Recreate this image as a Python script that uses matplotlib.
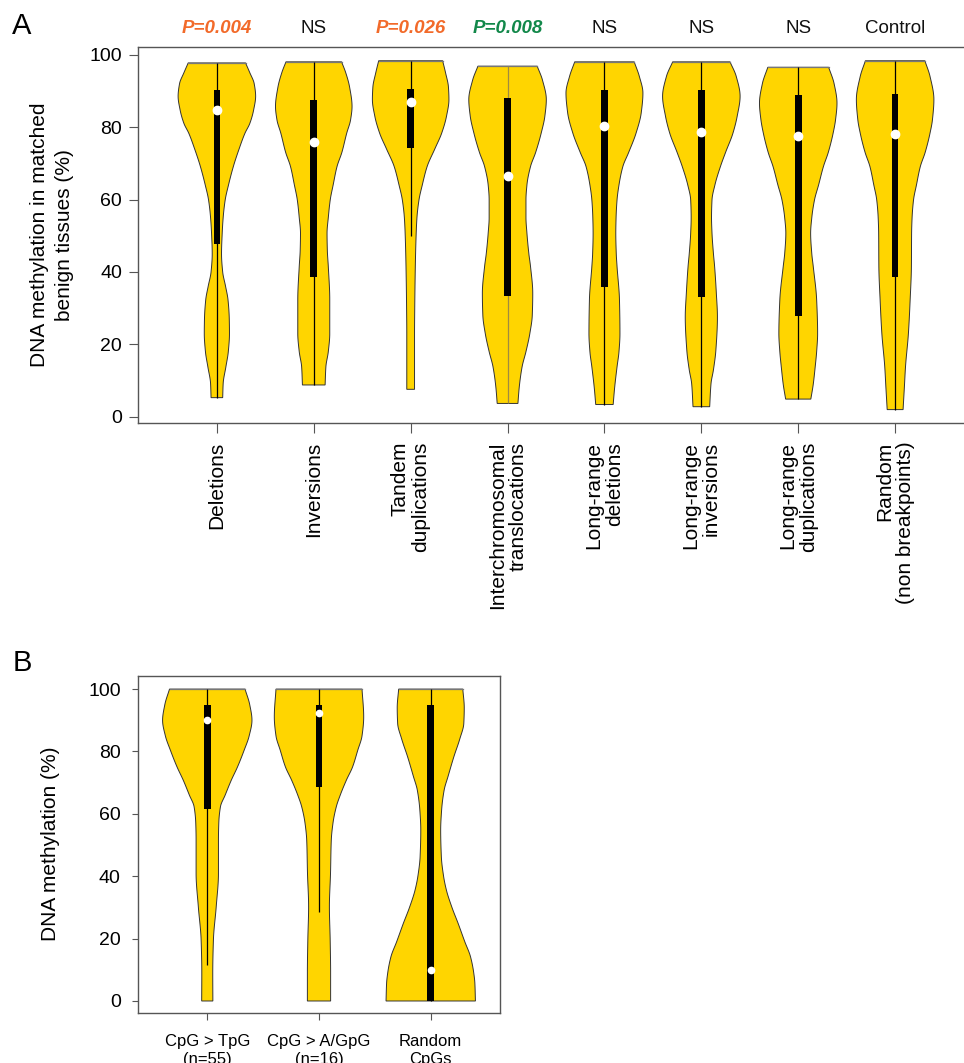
import numpy as np
import matplotlib
matplotlib.use("Agg")
import matplotlib.pyplot as plt

plt.rcParams['font.family'] = ['Liberation Sans', 'DejaVu Sans']

# ---------------- Panel A data ----------------
a_labels = ["Deletions", "Inversions", "Tandem\nduplications",
            "Interchromosomal\ntranslocations", "Long-range\ndeletions",
            "Long-range\ninversions", "Long-range\nduplications",
            "Random\n(non breakpoints)"]
a_top_text = ["P=0.004", "NS", "P=0.026", "P=0.008", "NS", "NS", "NS", "Control"]
a_top_kind = ["up", "ns", "up", "down", "ns", "ns", "ns", "ns"]

# violin outlines: methylation level (%) and half-width (fraction of group spacing)
deletions_y = [97.7, 95, 92, 88.5, 84.8, 81, 78.3, 74, 69.1, 64, 59.9, 55, 50.7, 45, 40, 36, 32.3, 27, 23, 18, 13.8, 9.2, 5.3]
deletions_w = [.296, .34, .385, .40, .38, .34, .29, .23, .17, .12, .086, .065, .055, .048, .06, .09, .115, .128, .13, .118, .093, .065, .06]
inversions_y = [98.0, 95, 91, 85.7, 82, 78.3, 73, 69.1, 64, 59.9, 55, 50.7, 46, 41.5, 32.3, 23, 18, 13.8, 8.8]
inversions_w = [.287, .33, .37, .395, .38, .34, .29, .24, .20, .17, .15, .137, .14, .15, .165, .165, .15, .125, .117]
tandem_y = [98.3, 95, 91, 87.6, 83, 78.3, 74, 69.1, 64, 59.9, 55, 50.7, 41.5, 30, 23, 15, 7.6]
tandem_w = [.33, .36, .39, .395, .37, .32, .25, .17, .12, .086, .065, .057, .048, .042, .04, .04, .04]
interchrom_y = [96.8, 93, 87.6, 83, 78.3, 73, 69.1, 64, 59.9, 55, 50.7, 45, 41.5, 34.1, 28, 23, 18, 13.8, 8, 3.7]
interchrom_w = [.306, .36, .40, .385, .347, .29, .237, .20, .19, .19, .20, .22, .237, .26, .255, .23, .19, .15, .12, .107]
lrdel_y = [98.0, 94, 89.4, 84, 78.3, 73, 69.1, 64, 59.9, 55, 50.7, 45, 41.5, 32.3, 23, 18, 13.8, 8, 3.4]
lrdel_w = [.307, .36, .397, .38, .326, .25, .19, .15, .13, .12, .117, .122, .13, .155, .16, .15, .13, .105, .09]
lrinv_y = [98.0, 94, 88.5, 83, 78.3, 73, 69.1, 64, 59.9, 55, 50.7, 45, 41.5, 34, 27.6, 18.4, 13, 9.2, 2.8]
lrinv_w = [.296, .36, .40, .37, .326, .25, .197, .14, .11, .105, .11, .125, .137, .155, .166, .15, .125, .10, .086]
lrdup_y = [96.5, 92, 86.6, 82, 78.3, 73, 69.1, 64, 59.9, 55, 50.7, 45, 41.5, 32.3, 23, 18, 13.8, 9, 4.9]
lrdup_w = [.314, .37, .40, .385, .36, .31, .26, .21, .168, .14, .128, .14, .155, .19, .20, .19, .175, .155, .13]
random_y = [98.3, 94, 87.6, 82, 78.3, 73, 69.1, 64, 59.9, 55, 50.7, 41.5, 32.3, 23, 13.8, 8, 2.0]
random_w = [.307, .36, .40, .385, .36, .31, .26, .22, .19, .175, .17, .168, .155, .137, .107, .095, .082]

a_q1 = [47.6, 38.7, 74.2, 33.4, 35.9, 33.2, 27.8, 38.7]
a_q3 = [90.3, 87.6, 90.5, 88.0, 90.3, 90.3, 88.8, 89.1]
a_med = [84.8, 76.0, 86.9, 66.5, 80.2, 78.5, 77.4, 78.1]
a_wlo = [5.3, 8.8, 49.8, 3.7, 3.4, 2.8, 4.9, 2.0]
a_whi = [97.7, 98.0, 98.3, 96.8, 98.0, 98.0, 96.5, 98.3]

# ---------------- Panel B data ----------------
b_labels = ["CpG > TpG\n(n=55)", "CpG > A/GpG\n(n=16)", "Random\nCpGs"]
tpg_y = [100, 95, 90, 85, 80.4, 75, 70.8, 66, 62.3, 57, 51.6, 40.9, 30.2, 19.6, 8.9, 0]
tpg_w = [.338, .38, .40, .375, .33, .27, .215, .16, .118, .103, .10, .10, .08, .055, .049, .05]
agpg_y = [100, 91.1, 85, 80.4, 75, 70.8, 66, 62.3, 57, 51.6, 40.9, 30.2, 19.6, 8.9, 0]
agpg_w = [.385, .40, .385, .347, .30, .245, .19, .155, .125, .11, .103, .093, .10, .104, .104]
rcpg_y = [100, 94, 89, 84, 78.3, 72, 67.6, 61, 54.8, 46.3, 40, 35.6, 30, 24.9, 19, 14.2, 9, 5.7, 0]
rcpg_w = [.287, .30, .296, .26, .207, .155, .12, .097, .089, .095, .115, .14, .19, .245, .305, .356, .385, .395, .40]

b_q1 = [61.4, 68.5, 0.0]
b_q3 = [94.9, 94.9, 94.9]
b_med = [90.0, 92.2, 9.9]
b_wlo = [11.5, 28.6, 0.0]
b_whi = [100, 100, 100]

GOLD = '#FFD500'
ORANGE = '#F26A2A'
GREEN = '#12884A'
SPINE = '#555555'

W, H = 964, 1063
fig = plt.figure(figsize=(W / 100, H / 100), dpi=100)


def px_axes(l, t, r, b):
    return fig.add_axes([l / W, 1 - b / H, (r - l) / W, (b - t) / H])


def smooth_outline(ys, ws, n=300):
    """Monotone cubic (PCHIP) rendering of the outline through the read points."""
    x = np.asarray(ys, float)[::-1]
    y = np.asarray(ws, float)[::-1]
    h = np.diff(x)
    d = np.diff(y) / h
    m = np.zeros_like(y)
    m[0], m[-1] = d[0], d[-1]
    for k in range(1, len(y) - 1):
        if d[k - 1] * d[k] > 0:
            w1 = 2 * h[k] + h[k - 1]
            w2 = h[k] + 2 * h[k - 1]
            m[k] = (w1 + w2) / (w1 / d[k - 1] + w2 / d[k])
    xn = np.linspace(x[0], x[-1], n)
    idx = np.clip(np.searchsorted(x, xn) - 1, 0, len(h) - 1)
    t = (xn - x[idx]) / h[idx]
    h00 = 2 * t**3 - 3 * t**2 + 1
    h10 = t**3 - 2 * t**2 + t
    h01 = -2 * t**3 + 3 * t**2
    h11 = t**3 - t**2
    yn = h00 * y[idx] + h10 * h[idx] * m[idx] + h01 * y[idx + 1] + h11 * h[idx] * m[idx + 1]
    return xn[::-1], yn[::-1]


def draw_violins(ax, profiles, q1, q3, med, wlo, whi, box_w, dot_ms, wcolors):
    for i, (ys, ws) in enumerate(profiles):
        x0 = i + 1
        yy1, ww1 = smooth_outline(ys, ws)
        xs = np.concatenate([x0 - ww1, (x0 + ww1)[::-1]])
        yy = np.concatenate([yy1, yy1[::-1]])
        ax.fill(xs, yy, facecolor=GOLD, edgecolor='#333333', lw=0.7, zorder=2)
        ax.plot([x0 - ww1[0], x0 + ww1[0]], [yy1[0], yy1[0]], color='#777777', lw=0.9, zorder=3)
        ax.vlines(x0, wlo[i], whi[i], color=wcolors[i], lw=0.9, zorder=3)
    xs = np.arange(1, len(profiles) + 1)
    ax.bar(xs, np.array(q3) - np.array(q1), bottom=q1, width=box_w,
           color='black', zorder=4)
    ax.plot(xs, med, 'o', color='white', ms=dot_ms, mec='white', zorder=5)


# ---------------- Panel A ----------------
axA = px_axes(138, 47, 974, 423)
profA = [(deletions_y, deletions_w), (inversions_y, inversions_w), (tandem_y, tandem_w),
         (interchrom_y, interchrom_w), (lrdel_y, lrdel_w), (lrinv_y, lrinv_w),
         (lrdup_y, lrdup_w), (random_y, random_w)]
wcolA = ['black', 'black', 'black', '#A08A40', 'black', 'black', 'black', 'black']
draw_violins(axA, profA, a_q1, a_q3, a_med, a_wlo, a_whi, 0.068, 6.0, wcolA)
axA.set_xlim(0.186, 8.814)
axA.set_ylim(-1.7, 102.1)
axA.set_yticks([0, 20, 40, 60, 80, 100])
axA.set_xticks(np.arange(1, 9))
axA.set_xticklabels(a_labels, rotation=90, ha='center', va='top',
                    multialignment='right', fontsize=15, linespacing=1.1)
axA.tick_params(axis='x', length=7.5, width=0.8, color=SPINE, pad=6)
axA.tick_params(axis='y', length=6.5, width=0.8, color=SPINE, pad=5, labelsize=14)
axA.spines['right'].set_visible(False)
for s in ['top', 'bottom', 'left']:
    axA.spines[s].set_color(SPINE)
    axA.spines[s].set_linewidth(1.0)

colmap = {"up": ORANGE, "down": GREEN, "ns": '#111111'}
for i, (t, k) in enumerate(zip(a_top_text, a_top_kind)):
    if k == "ns":
        axA.text(i + 1, 1.0505, t, transform=axA.get_xaxis_transform(),
                 ha='center', va='center', fontsize=13.5, color='#111111')
    else:
        axA.text(i + 1, 1.0505, t, transform=axA.get_xaxis_transform(),
                 ha='center', va='center', fontsize=13.5, color=colmap[k],
                 fontweight='bold', fontstyle='italic')

fig.text(52 / W, 1 - 235 / H, "DNA methylation in matched\nbenign tissues (%)",
         rotation=90, ha='center', va='center', fontsize=15, linespacing=1.35)
fig.text(22 / W, 1 - 26 / H, "A", ha='center', va='center', fontsize=21)

# ---------------- Panel B ----------------
axB = px_axes(138, 676, 500, 1013)
profB = [(tpg_y, tpg_w), (agpg_y, agpg_w), (rcpg_y, rcpg_w)]
draw_violins(axB, profB, b_q1, b_q3, b_med, b_wlo, b_whi, 0.06, 4.5, ['black'] * 3)
axB.set_xlim(0.38, 3.62)
axB.set_ylim(-3.85, 104.2)
axB.set_yticks([0, 20, 40, 60, 80, 100])
axB.set_xticks([1, 2, 3])
axB.set_xticklabels(b_labels, fontsize=12, linespacing=1.25)
axB.tick_params(axis='x', length=5, width=0.8, color=SPINE, pad=10)
axB.tick_params(axis='y', length=4.5, width=0.8, color=SPINE, pad=8, labelsize=14)
for s in axB.spines.values():
    s.set_color(SPINE)
    s.set_linewidth(1.0)

fig.text(51 / W, 1 - 844 / H, "DNA methylation (%)", rotation=90,
         ha='center', va='center', fontsize=15)
fig.text(22 / W, 1 - 663 / H, "B", ha='center', va='center', fontsize=21)

fig.savefig("out.png", dpi=100)
